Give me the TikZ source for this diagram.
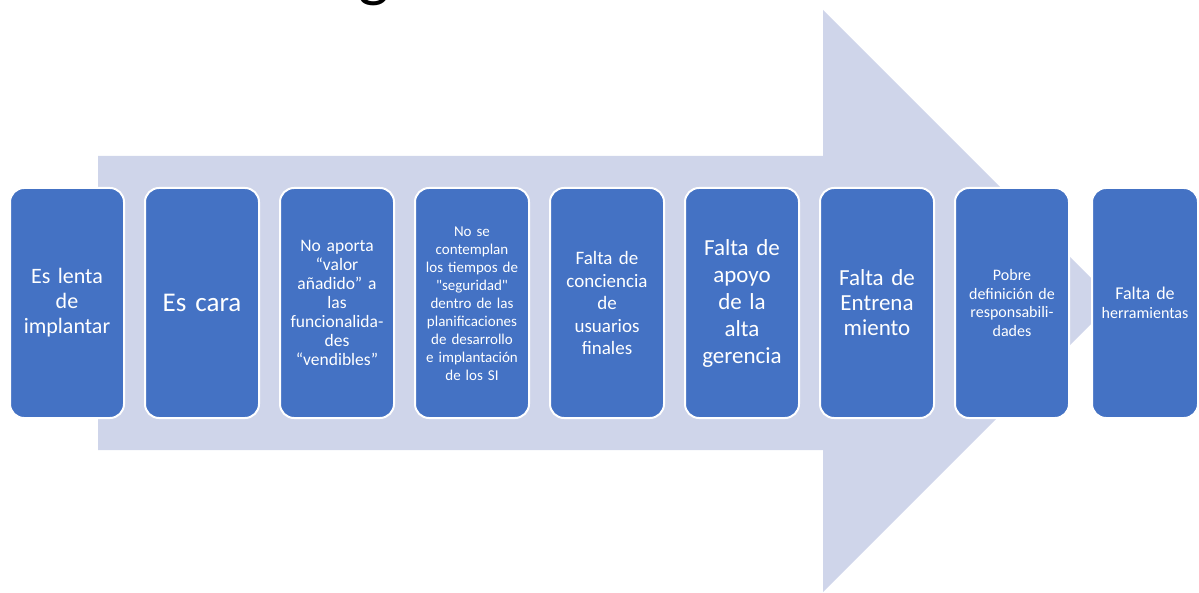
\documentclass[tikz,border=0pt]{standalone}
\usepackage{fontspec}
\setmainfont{Carlito}
\definecolor{flecha}{RGB}{207,213,234}
\definecolor{caja}{RGB}{68,114,196}
\begin{document}
\begin{tikzpicture}[x=1pt,y=-1pt,
        caja/.style={draw=white,line width=2pt,fill=caja,rounded corners=14pt,minimum width=114pt,minimum height=230pt,inner sep=0pt,text width=112pt,align=center,text=white},
        fs/.style n args={2}{font=\fontsize{#1}{#2}\selectfont}]
        \useasboundingbox (0,0) rectangle (1199,593);
        \node[anchor=base,font=\fontsize{66}{70}\selectfont] (titulo) at (374,-5) {g};
        \fill[flecha] (98,156) -- (823,156) -- (823,10) -- (1114,301) -- (823,592) -- (823,450) -- (98,450) -- cycle;

        \node[caja,fs={22}{25}] (c1) at (67,303) {Es lenta\\de\\implantar};
        \node[caja,fs={27}{30}] (c2) at (202,303) {Es cara};
        \node[caja,fs={17.5}{19}] (c3) at (337,303) {No aporta\\“valor\\añadido” a\\las\\funcionalida-\\des\\“vendibles”};
        \node[caja,fs={15}{18}] (c4) at (472,303) {\\[-6pt]No se\\contemplan\\los tiempos de\\\textquotedbl seguridad\textquotedbl\\dentro de las\\planificaciones\\de desarrollo\\e implantación\\de los SI};
        \node[caja,fs={19}{22.5}] (c5) at (607,303) {Falta de\\conciencia\\de\\usuarios\\finales};
        \node[caja,fs={23}{27}] (c6) at (742,303) {Falta de\\apoyo\\de la\\alta\\gerencia};
        \node[caja,fs={23}{25}] (c7) at (877,303) {Falta de\\Entrena\\miento};
        \node[caja,fs={16}{18.5}] (c8) at (1012,303) {Pobre\\definición de\\responsabili-\\dades};
        \node[caja,fs={18}{19},minimum width=106pt,text width=104pt] (c9) at (1145,303) {Falta de\\{\fontsize{16}{16}\selectfont herramientas}};
    \end{tikzpicture}
\end{document}
